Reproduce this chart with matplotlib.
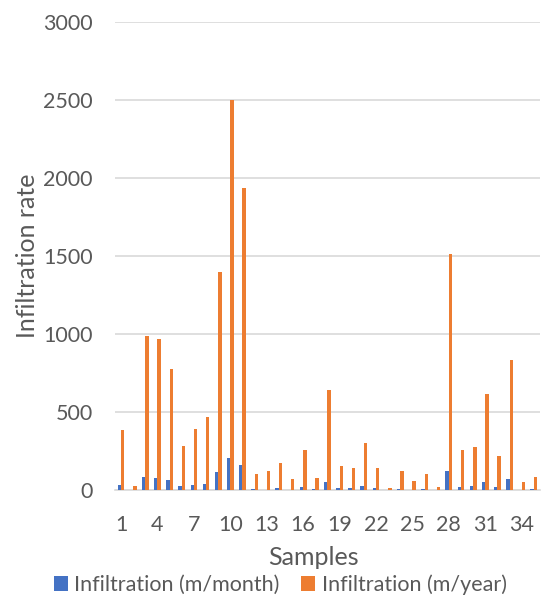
import matplotlib.pyplot as plt
import numpy as np

plt.rcParams['font.family'] = ['Lato', 'DejaVu Sans']

samples = np.arange(1, 36)
per_month = [32, 2, 81, 79, 64, 23, 32, 38, 115, 205, 160, 5, 3, 13, 2, 19, 5, 51,
             13, 13, 26, 13, 1, 5, 1, 5, 1, 124, 19, 26, 49, 19, 68, 1, 4]
per_year = [385, 25, 987, 970, 775, 282, 391, 468, 1399, 2500, 1934, 103, 120, 173,
            70, 256, 77, 643, 154, 139, 301, 141, 13, 120, 58, 103, 19, 1510, 256,
            278, 615, 220, 835, 49, 83]

blue = '#4472C4'
orange = '#ED7D31'
txt = '#595959'
w = 0.28

fig = plt.figure(figsize=(5.44, 5.95), dpi=100)
ax = fig.add_axes([0.2114, 0.1765, 0.781, 0.7866])

ax.bar(samples - w / 2, per_month, width=w, color=blue, label='Infiltration (m/month)', zorder=3)
ax.bar(samples + w / 2, per_year, width=w, color=orange, label='Infiltration (m/year)', zorder=3)

ax.set_xlim(0.5, 35.5)
ax.set_ylim(0, 3000)
ax.set_yticks(np.arange(0, 3001, 500))
ax.set_xticks(samples[::3])
ax.grid(axis='y', color='#D9D9D9', linewidth=1.2, zorder=0)
for s in ['left', 'right', 'top']:
    ax.spines[s].set_visible(False)
ax.spines['bottom'].set_color('#D9D9D9')
ax.spines['bottom'].set_linewidth(1.2)
ax.tick_params(axis='y', length=0, pad=16, labelsize=15.5, labelcolor=txt)
ax.tick_params(axis='x', length=0, pad=18, labelsize=15.5, labelcolor=txt)

ax.set_ylabel('Infiltration rate', fontsize=18, color=txt)
ax.yaxis.set_label_coords(-0.178, 0.5)
ax.set_xlabel('Samples', fontsize=18, color=txt)
ax.xaxis.set_label_coords(0.468, -0.12)

fig.legend(loc='center', bbox_to_anchor=(0.515, 0.017), ncol=2, frameon=False,
           fontsize=15.5, labelcolor=txt, handlelength=0.65, handleheight=0.65,
           handletextpad=0.3, columnspacing=1.0, borderaxespad=0)

fig.savefig('out.png', dpi=100)
